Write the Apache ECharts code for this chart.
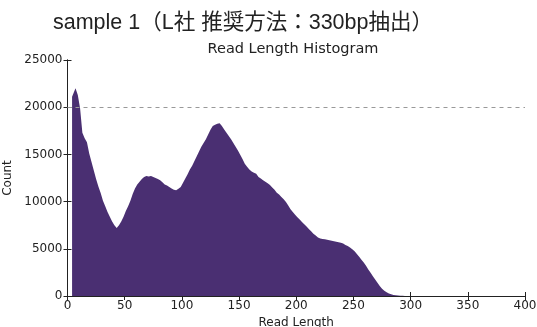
<!DOCTYPE html>
<html>
<head>
<meta charset="utf-8">
<script src="https://cdn.jsdelivr.net/npm/echarts@6/dist/echarts.min.js"></script>
<style>
  html, body { margin: 0; padding: 0; background: #fff; }
  #chart { width: 537px; height: 327px; }
</style>
</head>
<body>
<div id="chart"></div>
<script>
// Read-length histogram: counts per 2-bp bin, first bin starts at 4 bp
const binStart = 4;
const binWidth = 2;
const counts = [
  21100, 22000, 21300, 19900, 17300, 16700, 16300, 15100, 14200, 13300,
  12400, 11600, 10900, 10100, 9500, 8900, 8400, 7900, 7500, 7200,
  7500, 7900, 8400, 9000, 9500, 10100, 10800, 11400, 11800, 12100,
  12400, 12600, 12700, 12650, 12700, 12600, 12500, 12400, 12250, 12050,
  11800, 11700, 11550, 11400, 11250, 11200, 11350, 11550, 12000, 12450,
  12900, 13400, 13800, 14300, 14800, 15300, 15800, 16200, 16600, 17100,
  17600, 18000, 18150, 18250, 18300, 18000, 17650, 17300, 16950, 16600,
  16200, 15800, 15400, 14950, 14500, 14000, 13700, 13400, 13200, 13050,
  12950, 12600, 12450, 12250, 12100, 11950, 11750, 11500, 11250, 10950,
  10750, 10500, 10250, 9950, 9600, 9200, 8900, 8600, 8350, 8100,
  7850, 7600, 7350, 7100, 6850, 6600, 6400, 6200, 6100, 6050,
  6000, 5950, 5900, 5850, 5800, 5750, 5700, 5650, 5550, 5400,
  5300, 5150, 4950, 4750, 4450, 4150, 3850, 3550, 3200, 2800,
  2450, 2100, 1750, 1400, 1050, 780, 560, 400, 270, 180,
  110, 70, 40, 25, 15, 10, 5, 3, 2, 1
];
const xTicks = [0, 50, 100, 150, 200, 250, 300, 350, 400];
const yTicks = [0, 5000, 10000, 15000, 20000, 25000];
const referenceLevel = 20000;

const mainTitle = 'sample 1（L社 推奨方法：330bp抽出）';
const plotTitle = 'Read Length Histogram';
const xName = 'Read Length';
const yName = 'Count';

// outline points at bin centres, closed with vertical edges at both ends
const points = [[binStart, 0], [binStart, counts[0]]];
counts.forEach((c, i) => points.push([binStart + (i + 0.5) * binWidth, c]));
points.push([binStart + counts.length * binWidth, 0]);

const chart = echarts.init(document.getElementById('chart'), null, { renderer: 'canvas' });

const tickFont = { fontFamily: 'DejaVu Sans', fontSize: 12, color: '#222' };
const frameLine = { show: true, lineStyle: { color: '#222', width: 1 } };
const innerTick = { show: true, inside: true, length: 4, lineStyle: { color: '#222', width: 1 } };

chart.setOption({
  animation: false,
  backgroundColor: '#fff',
  title: [
    {
      text: mainTitle,
      left: 48, top: 7,
      textStyle: { fontFamily: 'Liberation Sans, Noto Sans CJK JP', fontSize: 21.5, fontWeight: 'normal', color: '#222' }
    },
    {
      text: plotTitle,
      left: 288, top: 37, textAlign: 'center',
      textStyle: { fontFamily: 'DejaVu Sans', fontSize: 14.5, fontWeight: 'normal', color: '#222' }
    }
  ],
  grid: { left: 67.5, right: 12, top: 60, bottom: 31, containLabel: false, outerBoundsMode: 'none' },
  xAxis: [
    {
      type: 'value', min: xTicks[0], max: xTicks[xTicks.length - 1], interval: 50,
      name: xName, nameLocation: 'middle', nameGap: 16,
      nameTextStyle: { fontFamily: 'DejaVu Sans', fontSize: 12, color: '#222' },
      axisLine: frameLine, axisTick: innerTick,
      axisLabel: Object.assign({ margin: 4 }, tickFont),
      splitLine: { show: false }
    },
    {
      type: 'value', position: 'top', min: xTicks[0], max: xTicks[xTicks.length - 1], interval: 50,
      axisLine: frameLine, axisTick: innerTick, axisLabel: { show: false }, splitLine: { show: false }
    }
  ],
  yAxis: [
    {
      type: 'value', min: yTicks[0], max: yTicks[yTicks.length - 1], interval: 5000,
      name: yName, nameLocation: 'middle', nameGap: 46,
      nameTextStyle: { fontFamily: 'DejaVu Sans', fontSize: 12, color: '#222' },
      axisLine: frameLine, axisTick: innerTick,
      axisLabel: Object.assign({ margin: 5, formatter: v => String(v) }, tickFont),
      splitLine: { show: false }
    },
    {
      type: 'value', position: 'right', min: yTicks[0], max: yTicks[yTicks.length - 1], interval: 5000,
      axisLine: frameLine, axisTick: innerTick, axisLabel: { show: false }, splitLine: { show: false }
    }
  ],
  series: [
    {
      type: 'line',
      data: points,
      showSymbol: false,
      symbol: 'none',
      lineStyle: { width: 0 },
      areaStyle: { color: '#4a2f72', opacity: 1 },
      z: 2,
      markLine: {
        silent: true,
        symbol: 'none',
        label: { show: false },
        lineStyle: { type: [4, 4], color: '#999', width: 1 },
        data: [{ yAxis: referenceLevel }]
      }
    }
  ]
});
</script>
</body>
</html>
